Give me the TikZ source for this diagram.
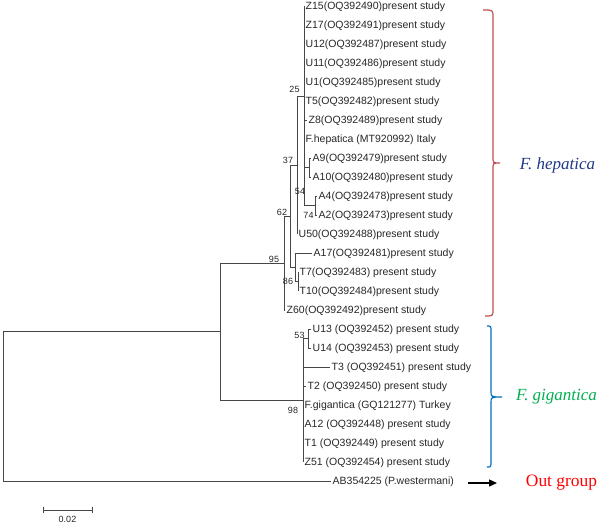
\documentclass[tikz,border=0pt]{standalone}
\usepackage{fontspec}
\setmainfont{Liberation Sans}
\newfontfamily\timesfont{Liberation Serif}
\usetikzlibrary{arrows.meta}
\definecolor{treegray}{RGB}{70,70,70}
\definecolor{leafgray}{RGB}{40,40,40}
\definecolor{bracered}{RGB}{192,80,77}
\definecolor{braceblue}{RGB}{0,112,192}
\definecolor{hepblue}{RGB}{32,56,136}
\definecolor{giggreen}{RGB}{0,176,80}
\definecolor{outred}{RGB}{255,0,0}
\begin{document}
\begin{tikzpicture}[x=1pt,y=-1pt,
  branch/.style={draw=treegray,line width=1pt},
  leaf/.style={anchor=west,inner sep=0pt,font=\fontsize{10.5}{12}\selectfont,text=leafgray,text height=7.5pt,text depth=0pt},
  boot/.style={inner sep=0pt,font=\fontsize{9}{10}\selectfont,text=leafgray},
  clade/.style={inner sep=0pt,font=\timesfont\itshape\fontsize{17}{20}\selectfont},
  bracestyle/.style={line width=1.2pt}]
\useasboundingbox[fill=white] (0,0) rectangle (600,525);

% internal nodes
\coordinate (nA910) at (309,167.5);
\coordinate (nA42) at (315,205.5);
\coordinate (n54) at (304,186.5);
\coordinate (n25) at (304,96.25);
\coordinate (n37) at (297,165.1);
\coordinate (nT) at (298,281.5);
\coordinate (n86) at (295,267.25);
\coordinate (n62) at (290,216.2);
\coordinate (n95) at (284,263.1);
\coordinate (nU) at (308,338.5);
\coordinate (n98) at (303,400.25);
\coordinate (nFas) at (220,331.7);
\coordinate (root) at (3,406.35);

% leaf tips
\coordinate (tZ15) at (304,6);
\coordinate (tZ17) at (304,25);
\coordinate (tU12) at (304,44);
\coordinate (tU11) at (304,63);
\coordinate (tU1) at (304,82);
\coordinate (tT5) at (304,101);
\coordinate (tZ8) at (307,120);
\coordinate (tFhep) at (304,139);
\coordinate (tA9) at (311,158);
\coordinate (tA10) at (311,177);
\coordinate (tA4) at (317,196);
\coordinate (tA2) at (317,215);
\coordinate (tU50) at (297,234);
\coordinate (tA17) at (312,253);
\coordinate (tT7) at (298,272);
\coordinate (tT10) at (298,291);
\coordinate (tZ60) at (285,310);
\coordinate (tU13) at (311,329);
\coordinate (tU14) at (311,348);
\coordinate (tT3) at (330,367);
\coordinate (tT2) at (306,386);
\coordinate (tFgig) at (303,405);
\coordinate (tA12) at (303,424);
\coordinate (tT1) at (303,443);
\coordinate (tZ51) at (303,462);
\coordinate (tAB) at (331,481);

% leaf labels
\node[leaf] (Z15) at (305.5,6) {Z15(OQ392490)present study};
\node[leaf] (Z17) at (305.5,25) {Z17(OQ392491)present study};
\node[leaf] (U12) at (305.5,44) {U12(OQ392487)present study};
\node[leaf] (U11) at (305.5,63) {U11(OQ392486)present study};
\node[leaf] (U1) at (305.5,82) {U1(OQ392485)present study};
\node[leaf] (T5) at (305.5,101) {T5(OQ392482)present study};
\node[leaf] (Z8) at (308.5,120) {Z8(OQ392489)present study};
\node[leaf] (Fhep) at (305.5,139) {F.hepatica (MT920992) Italy};
\node[leaf] (A9) at (312.5,158) {A9(OQ392479)present study};
\node[leaf] (A10) at (312.5,177) {A10(OQ392480)present study};
\node[leaf] (A4) at (318.5,196) {A4(OQ392478)present study};
\node[leaf] (A2) at (318.5,215) {A2(OQ392473)present study};
\node[leaf] (U50) at (298.5,234) {U50(OQ392488)present study};
\node[leaf] (A17) at (313.5,253) {A17(OQ392481)present study};
\node[leaf] (T7) at (299.5,272) {T7(OQ392483) present study};
\node[leaf] (T10) at (299.5,291) {T10(OQ392484)present study};
\node[leaf] (Z60) at (286.5,310) {Z60(OQ392492)present study};
\node[leaf] (U13) at (312.5,329) {U13 (OQ392452) present study};
\node[leaf] (U14) at (312.5,348) {U14 (OQ392453) present study};
\node[leaf] (T3) at (331.5,367) {T3 (OQ392451) present study};
\node[leaf] (T2) at (307.5,386) {T2 (OQ392450) present study};
\node[leaf] (Fgig) at (304.5,405) {F.gigantica (GQ121277) Turkey};
\node[leaf] (A12) at (304.5,424) {A12 (OQ392448) present study};
\node[leaf] (T1) at (304.5,443) {T1 (OQ392449) present study};
\node[leaf] (Z51) at (304.5,462) {Z51 (OQ392454) present study};
\node[leaf] (AB) at (332.5,481) {AB354225 (P.westermani)};

% branches
\foreach \t in {tZ15,tZ17,tU12,tU11,tU1,tT5,tZ8,tFhep}
  \draw[branch] (n25) |- (\t);
\draw[branch] (n25) |- (n54);
\draw[branch] (n54) |- (nA910);
\draw[branch] (n54) |- (nA42);
\draw[branch] (nA910) |- (tA9);
\draw[branch] (nA910) |- (tA10);
\draw[branch] (nA42) |- (tA4);
\draw[branch] (nA42) |- (tA2);
\draw[branch] (n37) |- (n25);
\draw[branch] (n37) |- (tU50);
\draw[branch] (nT) |- (tT7);
\draw[branch] (nT) |- (tT10);
\draw[branch] (n86) |- (tA17);
\draw[branch] (n86) |- (nT);
\draw[branch] (n62) |- (n37);
\draw[branch] (n62) |- (n86);
\draw[branch] (n95) |- (n62);
\draw[branch] (n95) |- (tZ60);
\draw[branch] (nU) |- (tU13);
\draw[branch] (nU) |- (tU14);
\draw[branch] (n98) |- (nU);
\foreach \t in {tT3,tT2,tFgig,tA12,tT1,tZ51}
  \draw[branch] (n98) |- (\t);
\draw[branch] (nFas) |- (n95);
\draw[branch] (nFas) |- (n98);
\draw[branch] (root) |- (nFas);
\draw[branch] (root) |- (tAB);

% bootstrap values
\node[boot] (b25) at (294.5,89) {25};
\node[boot] (b37) at (288,160) {37};
\node[boot] (b54) at (300,191.5) {54};
\node[boot] (b74) at (308.5,215) {74};
\node[boot] (b62) at (282,212) {62};
\node[boot] (b95) at (274,259) {95};
\node[boot] (b86) at (288,281) {86};
\node[boot] (b53) at (299.5,335.5) {53};
\node[boot] (b98) at (293,410) {98};

% scale bar
\coordinate (sbL) at (43,510);
\coordinate (sbR) at (92,510);
\draw[branch] (sbL) -- (sbR);
\draw[branch] ([yshift=-3pt]sbL) -- ([yshift=3pt]sbL);
\draw[branch] ([yshift=-3pt]sbR) -- ([yshift=3pt]sbR);
\node[boot] (sbT) at (67.5,519.5) {0.02};

% clade braces
\draw[bracered,bracestyle] (483,10) .. controls (493,10) .. (493,17) -- (493,157)
  .. controls (493,163) .. (500,163) .. controls (493,163) .. (493,169) -- (493,309)
  .. controls (493,316) .. (485,316);
\draw[braceblue,bracestyle] (487,326) .. controls (491,326) .. (491,332) -- (491,391)
  .. controls (491,397) .. (502,397) .. controls (491,397) .. (491,403) -- (491,461)
  .. controls (491,467) .. (487,467);
\node[clade,text=hepblue] (hep) at (557.5,165) {F. hepatica};
\node[clade,text=giggreen] (gig) at (556.5,397) {F. gigantica};

% out group
\node[clade,font=\timesfont\fontsize{17.4}{20}\selectfont,text=outred] (outg) at (561.5,483) {Out group};
\coordinate (arS) at (468,483);
\coordinate (arE) at (497,483);
\draw[line width=1.4pt,-{Triangle[length=8pt,width=7pt]}] (arS) -- (arE);
\end{tikzpicture}
\end{document}
